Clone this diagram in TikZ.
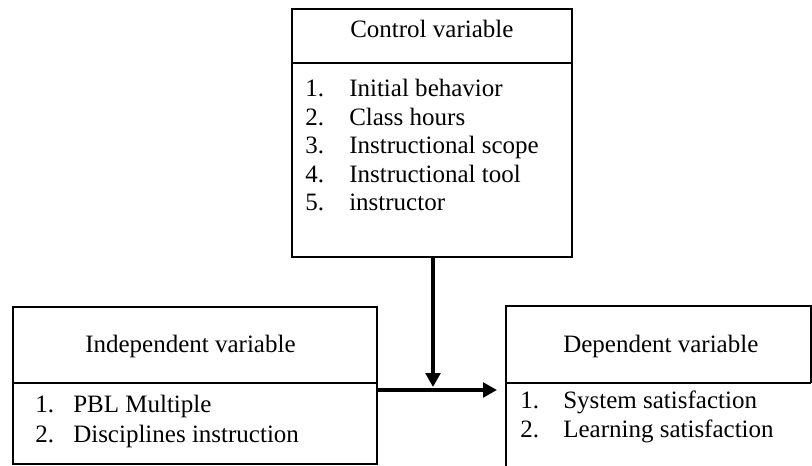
\documentclass[tikz,border=0pt]{standalone}
\usepackage{fontspec}
\setmainfont{Liberation Serif}
\usetikzlibrary{arrows.meta}
\begin{document}
\begin{tikzpicture}[x=0.75pt,y=-0.75pt,
  box/.style={draw=black, line width=1.3pt, inner sep=0pt},
  rule/.style={draw=black, line width=1.3pt},
  conn/.style={line width=3pt, -{Triangle[length=10.5pt,width=11pt]}},
  txt/.style={anchor=base west, inner sep=0pt, font=\fontsize{18.75}{21.5}\selectfont}]
\useasboundingbox (0,0) rectangle (812,466);
% control box
\node[box, minimum width=210pt, minimum height=186pt] (ctrl) at (432,133) {};
\draw[rule] (292,63) -- (572,63);
\node[txt] (ctrlT) at (350,38) {Control variable};
\node[txt] (c1n) at (305,97) {1.};  \node[txt] (c1) at (349,97) {Initial behavior};
\node[txt] (c2n) at (305,125.5) {2.}; \node[txt] (c2) at (349,125.5) {Class hours};
\node[txt] (c3n) at (305,154) {3.}; \node[txt] (c3) at (349,154) {Instructional scope};
\node[txt] (c4n) at (305,182.5) {4.}; \node[txt] (c4) at (349,182.5) {Instructional tool};
\node[txt] (c5n) at (305,211) {5.}; \node[txt] (c5) at (349,211) {instructor};
% independent box
\node[box, minimum width=273pt, minimum height=117.75pt] (indep) at (195,385.5) {};
\draw[rule] (13,383) -- (377,383);
\node[txt] (indT) at (85,352) {Independent variable};
\node[txt] (i1n) at (35,412) {1.}; \node[txt] (i1) at (73,412) {PBL Multiple};
\node[txt] (i2n) at (35,442) {2.}; \node[txt] (i2) at (73,442) {Disciplines instruction};
% dependent box (open at bottom and lower right)
\draw[rule] (506,466) -- (506,306) -- (811,306) -- (811,383);
\draw[rule] (506,383) -- (811,383);
\coordinate (dep) at (506,383);
\node[txt] (depT) at (563,352) {Dependent variable};
\node[txt] (d1n) at (520,408) {1.}; \node[txt] (d1) at (563,408) {System satisfaction};
\node[txt] (d2n) at (520,437) {2.}; \node[txt] (d2) at (563,437) {Learning satisfaction};
% connectors
\coordinate (join) at (433,387);
\coordinate (depin) at (497,390);
\draw[conn] (ctrl.south -| join) -- (join);
\draw[conn] (indep.east |- depin) -- (depin);
\end{tikzpicture}
\end{document}
